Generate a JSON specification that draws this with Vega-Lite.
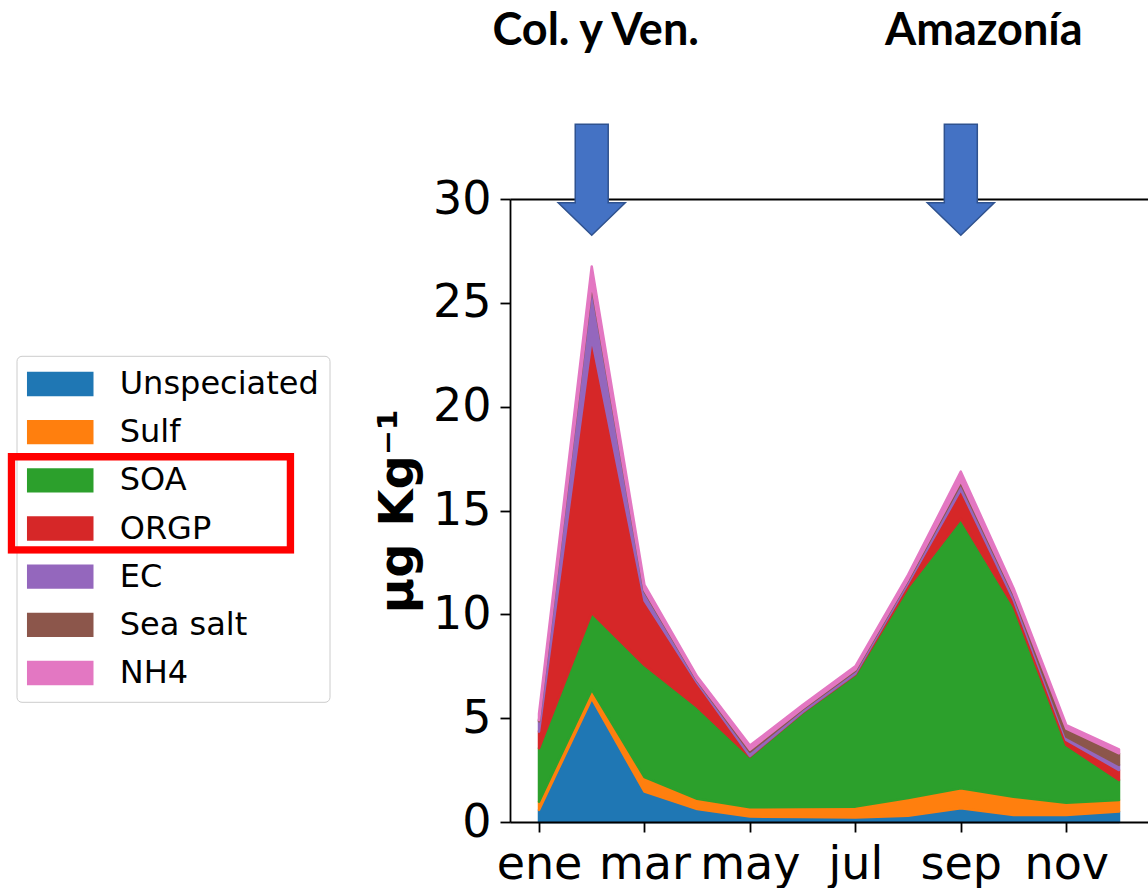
{
  "$schema": "https://vega.github.io/schema/vega-lite/v6.json",
  "description": "Composición mensual del aerosol (µg Kg-1) apilada por especie, con las temporadas de quema señaladas.",
  "autosize": {"type": "none"},
  "padding": {"left": 510, "top": 199, "right": 0, "bottom": 66},
  "width": 638,
  "height": 623,
  "background": "white",
  "config": {"view": {"stroke": null}, "legend": {"symbolBaseFillColor": "#ff0000"}},
  "datasets": {
    "componentes": [
      {"mes": 0, "especie": "Unspeciated", "orden": 1, "valor": 0.58},
      {"mes": 0, "especie": "Sulf", "orden": 2, "valor": 0.40},
      {"mes": 0, "especie": "SOA", "orden": 3, "valor": 2.57},
      {"mes": 0, "especie": "ORGP", "orden": 4, "valor": 0.80},
      {"mes": 0, "especie": "EC", "orden": 5, "valor": 0.50},
      {"mes": 0, "especie": "Sea salt", "orden": 6, "valor": 0.05},
      {"mes": 0, "especie": "NH4", "orden": 7, "valor": 0.30},
      {"mes": 1, "especie": "Unspeciated", "orden": 1, "valor": 5.95},
      {"mes": 1, "especie": "Sulf", "orden": 2, "valor": 0.42},
      {"mes": 1, "especie": "SOA", "orden": 3, "valor": 3.70},
      {"mes": 1, "especie": "ORGP", "orden": 4, "valor": 13.23},
      {"mes": 1, "especie": "EC", "orden": 5, "valor": 2.55},
      {"mes": 1, "especie": "Sea salt", "orden": 6, "valor": 0.10},
      {"mes": 1, "especie": "NH4", "orden": 7, "valor": 0.80},
      {"mes": 2, "especie": "Unspeciated", "orden": 1, "valor": 1.46},
      {"mes": 2, "especie": "Sulf", "orden": 2, "valor": 0.70},
      {"mes": 2, "especie": "SOA", "orden": 3, "valor": 5.40},
      {"mes": 2, "especie": "ORGP", "orden": 4, "valor": 3.10},
      {"mes": 2, "especie": "EC", "orden": 5, "valor": 0.45},
      {"mes": 2, "especie": "Sea salt", "orden": 6, "valor": 0.06},
      {"mes": 2, "especie": "NH4", "orden": 7, "valor": 0.25},
      {"mes": 3, "especie": "Unspeciated", "orden": 1, "valor": 0.62},
      {"mes": 3, "especie": "Sulf", "orden": 2, "valor": 0.50},
      {"mes": 3, "especie": "SOA", "orden": 3, "valor": 4.43},
      {"mes": 3, "especie": "ORGP", "orden": 4, "valor": 1.15},
      {"mes": 3, "especie": "EC", "orden": 5, "valor": 0.12},
      {"mes": 3, "especie": "Sea salt", "orden": 6, "valor": 0.04},
      {"mes": 3, "especie": "NH4", "orden": 7, "valor": 0.14},
      {"mes": 4, "especie": "Unspeciated", "orden": 1, "valor": 0.26},
      {"mes": 4, "especie": "Sulf", "orden": 2, "valor": 0.45},
      {"mes": 4, "especie": "SOA", "orden": 3, "valor": 2.44},
      {"mes": 4, "especie": "ORGP", "orden": 4, "valor": 0.03},
      {"mes": 4, "especie": "EC", "orden": 5, "valor": 0.20},
      {"mes": 4, "especie": "Sea salt", "orden": 6, "valor": 0.10},
      {"mes": 4, "especie": "NH4", "orden": 7, "valor": 0.20},
      {"mes": 5, "especie": "Unspeciated", "orden": 1, "valor": 0.24},
      {"mes": 5, "especie": "Sulf", "orden": 2, "valor": 0.48},
      {"mes": 5, "especie": "SOA", "orden": 3, "valor": 4.55},
      {"mes": 5, "especie": "ORGP", "orden": 4, "valor": 0.03},
      {"mes": 5, "especie": "EC", "orden": 5, "valor": 0.13},
      {"mes": 5, "especie": "Sea salt", "orden": 6, "valor": 0.05},
      {"mes": 5, "especie": "NH4", "orden": 7, "valor": 0.15},
      {"mes": 6, "especie": "Unspeciated", "orden": 1, "valor": 0.22},
      {"mes": 6, "especie": "Sulf", "orden": 2, "valor": 0.52},
      {"mes": 6, "especie": "SOA", "orden": 3, "valor": 6.36},
      {"mes": 6, "especie": "ORGP", "orden": 4, "valor": 0.04},
      {"mes": 6, "especie": "EC", "orden": 5, "valor": 0.14},
      {"mes": 6, "especie": "Sea salt", "orden": 6, "valor": 0.06},
      {"mes": 6, "especie": "NH4", "orden": 7, "valor": 0.16},
      {"mes": 7, "especie": "Unspeciated", "orden": 1, "valor": 0.30},
      {"mes": 7, "especie": "Sulf", "orden": 2, "valor": 0.85},
      {"mes": 7, "especie": "SOA", "orden": 3, "valor": 10.15},
      {"mes": 7, "especie": "ORGP", "orden": 4, "valor": 0.20},
      {"mes": 7, "especie": "EC", "orden": 5, "valor": 0.15},
      {"mes": 7, "especie": "Sea salt", "orden": 6, "valor": 0.05},
      {"mes": 7, "especie": "NH4", "orden": 7, "valor": 0.20},
      {"mes": 8, "especie": "Unspeciated", "orden": 1, "valor": 0.66},
      {"mes": 8, "especie": "Sulf", "orden": 2, "valor": 0.96},
      {"mes": 8, "especie": "SOA", "orden": 3, "valor": 12.98},
      {"mes": 8, "especie": "ORGP", "orden": 4, "valor": 1.40},
      {"mes": 8, "especie": "EC", "orden": 5, "valor": 0.30},
      {"mes": 8, "especie": "Sea salt", "orden": 6, "valor": 0.12},
      {"mes": 8, "especie": "NH4", "orden": 7, "valor": 0.45},
      {"mes": 9, "especie": "Unspeciated", "orden": 1, "valor": 0.34},
      {"mes": 9, "especie": "Sulf", "orden": 2, "valor": 0.88},
      {"mes": 9, "especie": "SOA", "orden": 3, "valor": 9.18},
      {"mes": 9, "especie": "ORGP", "orden": 4, "valor": 0.30},
      {"mes": 9, "especie": "EC", "orden": 5, "valor": 0.25},
      {"mes": 9, "especie": "Sea salt", "orden": 6, "valor": 0.08},
      {"mes": 9, "especie": "NH4", "orden": 7, "valor": 0.23},
      {"mes": 10, "especie": "Unspeciated", "orden": 1, "valor": 0.34},
      {"mes": 10, "especie": "Sulf", "orden": 2, "valor": 0.59},
      {"mes": 10, "especie": "SOA", "orden": 3, "valor": 2.78},
      {"mes": 10, "especie": "ORGP", "orden": 4, "valor": 0.24},
      {"mes": 10, "especie": "EC", "orden": 5, "valor": 0.16},
      {"mes": 10, "especie": "Sea salt", "orden": 6, "valor": 0.39},
      {"mes": 10, "especie": "NH4", "orden": 7, "valor": 0.17},
      {"mes": 11, "especie": "Unspeciated", "orden": 1, "valor": 0.50},
      {"mes": 11, "especie": "Sulf", "orden": 2, "valor": 0.56},
      {"mes": 11, "especie": "SOA", "orden": 3, "valor": 0.96},
      {"mes": 11, "especie": "ORGP", "orden": 4, "valor": 0.48},
      {"mes": 11, "especie": "EC", "orden": 5, "valor": 0.25},
      {"mes": 11, "especie": "Sea salt", "orden": 6, "valor": 0.56},
      {"mes": 11, "especie": "NH4", "orden": 7, "valor": 0.19}
    ],
    "regiones": [
      {"mes": 1, "region": "Col. y Ven."},
      {"mes": 8, "region": "Amazonía"}
    ]
  },
  "layer": [
    {
      "data": {"name": "componentes"},
      "mark": {"type": "area", "interpolate": "linear", "strokeWidth": 2.5, "strokeJoin": "round"},
      "encoding": {
        "x": {
          "field": "mes",
          "type": "quantitative",
          "scale": {"domain": [-0.55, 11.55], "nice": false, "zero": false},
          "axis": {
            "orient": "bottom",
            "values": [0, 2, 4, 6, 8, 10],
            "labelExpr": "['ene','feb','mar','abr','may','jun','jul','ago','sep','oct','nov','dic'][datum.value]",
            "title": null,
            "grid": false,
            "labelFont": "DejaVu Sans",
            "labelFontSize": 46,
            "labelColor": "black",
            "labelPadding": 10,
            "labelOverlap": false,
            "labelFlush": false,
            "tickColor": "black",
            "tickSize": 10,
            "tickWidth": 1.8,
            "domainColor": "black",
            "domainWidth": 1.8,
            "zindex": 1
          }
        },
        "y": {
          "field": "valor",
          "type": "quantitative",
          "stack": "zero",
          "scale": {"domain": [0, 30], "nice": false},
          "axis": {
            "values": [0, 5, 10, 15, 20, 25, 30],
            "title": "µg Kg⁻¹",
            "titleFont": "DejaVu Sans",
            "titleFontSize": 48,
            "titleFontWeight": "bold",
            "titleColor": "black",
            "titlePadding": 10,
            "grid": false,
            "labelFont": "DejaVu Sans",
            "labelFontSize": 46,
            "labelColor": "black",
            "labelPadding": 9,
            "tickColor": "black",
            "tickSize": 10,
            "tickWidth": 1.8,
            "domainColor": "black",
            "domainWidth": 1.8,
            "zindex": 1
          }
        },
        "color": {
          "field": "especie",
          "type": "nominal",
          "scale": {
            "domain": ["Unspeciated", "Sulf", "SOA", "ORGP", "EC", "Sea salt", "NH4"],
            "range": ["#1f77b4", "#ff7f0e", "#2ca02c", "#d62728", "#9467bd", "#8c564b", "#e377c2"]
          },
          "legend": {
            "orient": "none",
            "legendX": -493.5,
            "legendY": 156.8,
            "zindex": 1,
            "title": null,
            "symbolType": "M-1,-0.365H1V0.365H-1Z",
            "symbolSize": 4436,
            "symbolStrokeWidth": 0,
            "symbolOpacity": 1,
            "labelFont": "DejaVu Sans",
            "labelFontSize": 32,
            "labelColor": "black",
            "labelOffset": 26,
            "labelLimit": 400,
            "clipHeight": 36,
            "rowPadding": 12.17,
            "padding": 10.2,
            "fillColor": "white",
            "strokeColor": "#cccccc",
            "cornerRadius": 5
          }
        },
        "stroke": {
          "field": "especie",
          "type": "nominal",
          "scale": {
            "domain": ["Unspeciated", "Sulf", "SOA", "ORGP", "EC", "Sea salt", "NH4"],
            "range": ["#1f77b4", "#ff7f0e", "#2ca02c", "#d62728", "#9467bd", "#8c564b", "#e377c2"]
          },
          "legend": null
        },
        "opacity": {
          "field": "orden",
          "type": "ordinal",
          "scale": {"range": [1, 1]},
          "legend": {
            "orient": "none",
            "legendX": -502.55,
            "legendY": 253.95,
            "zindex": 2,
            "title": null,
            "values": [3],
            "symbolType": "M-1,-0.3517H1V0.3517H-1Z M-0.9477,-0.2994V0.2994H0.9477V-0.2994Z",
            "symbolSize": 82140,
            "symbolFillColor": "#ff0000",
            "symbolOpacity": 1,
            "symbolStrokeWidth": 0,
            "clipHeight": 100.8,
            "labelExpr": "''",
            "labelFontSize": 1,
            "labelOpacity": 0,
            "labelOffset": 0,
            "padding": 0,
            "strokeColor": null,
            "fillColor": null
          }
        },
        "order": {"field": "orden", "type": "quantitative", "sort": "ascending"}
      }
    },
    {
      "data": {"name": "regiones"},
      "mark": {
        "type": "point",
        "shape": "M-0.297,-1L0.297,-1L0.297,0.414L0.604,0.414L0,1L-0.604,0.414L-0.297,0.414Z",
        "size": 12321,
        "filled": true,
        "fill": "#4472C4",
        "stroke": "#2F528F",
        "strokeWidth": 1.5,
        "opacity": 1
      },
      "encoding": {
        "x": {
          "field": "mes",
          "type": "quantitative",
          "axis": {
            "orient": "top",
            "labels": false,
            "ticks": false,
            "grid": false,
            "title": null,
            "domainColor": "black",
            "domainWidth": 1.8
          }
        },
        "y": {"datum": 30.93, "axis": null}
      }
    },
    {
      "data": {"name": "regiones"},
      "transform": [{"filter": "datum.mes == 1"}],
      "mark": {"type": "text", "font": "Lato", "fontWeight": "bold", "fontSize": 45, "baseline": "alphabetic", "align": "center", "dx": 4, "color": "black"},
      "encoding": {
        "x": {"field": "mes", "type": "quantitative", "axis": null},
        "y": {"datum": 37.4, "axis": null},
        "text": {"field": "region"}
      }
    },
    {
      "data": {"name": "regiones"},
      "transform": [{"filter": "datum.mes == 8"}],
      "mark": {"type": "text", "font": "Lato", "fontWeight": "bold", "fontSize": 45, "baseline": "alphabetic", "align": "center", "dx": 23, "color": "black"},
      "encoding": {
        "x": {"field": "mes", "type": "quantitative", "axis": null},
        "y": {"datum": 37.4, "axis": null},
        "text": {"field": "region"}
      }
    }
  ],
  "resolve": {"axis": {"x": "independent", "y": "independent"}}
}
